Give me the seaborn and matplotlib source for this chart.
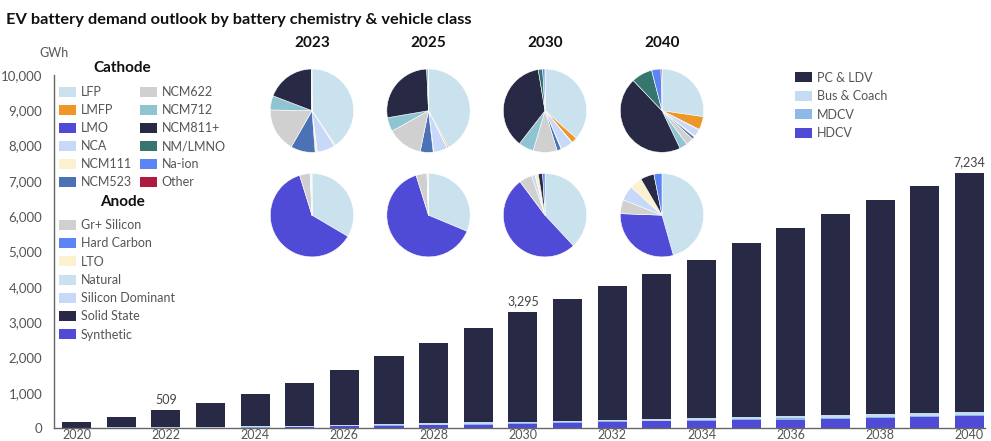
import matplotlib
matplotlib.use("Agg")
import matplotlib.pyplot as plt
import seaborn as sns
import numpy as np
import pandas as pd
from matplotlib.patches import Patch

# ---------------- data ----------------
years = list(range(2020, 2041))
pc_ldv = [149, 286, 486, 669, 919, 1199, 1541, 1916, 2259, 2669, 3112,
          3441, 3781, 4093, 4464, 4925, 5337, 5700, 6071, 6438, 6785]
bus_coach = [10, 14, 18, 22, 28, 32, 36, 40, 44, 47, 50,
             52, 54, 56, 58, 60, 62, 64, 66, 68, 70]
mdcv = [1, 2, 3, 4, 6, 10, 12, 15, 17, 19, 20,
        22, 24, 26, 28, 30, 33, 36, 40, 44, 48]
hdcv = [0, 1, 2, 5, 10, 25, 45, 60, 80, 95, 113,
        135, 161, 185, 210, 225, 238, 260, 283, 310, 331]
labelled_years = [2022, 2030, 2040]
tick_years = [2020, 2022, 2024, 2026, 2028, 2030, 2032, 2034, 2036, 2038, 2040]
y_ticks = [0, 1000, 2000, 3000, 4000, 5000, 6000, 7000, 8000, 9000, 10000]

vehicle_names = ["PC & LDV", "Bus & Coach", "MDCV", "HDCV"]
vehicle_colors = ["#282a45", "#c5dcf0", "#8db8e8", "#504bd6"]

pie_years = ["2023", "2025", "2030", "2040"]

cathode_names = ["LFP", "LMFP", "LMO", "NCA", "NCM111", "NCM523",
                 "NCM622", "NCM712", "NCM811+", "NM/LMNO", "Na-ion", "Other"]
cathode_colors = ["#c9e2ee", "#ee9628", "#504bd6", "#c8d8f8", "#fbf1cf", "#4a72b5",
                  "#d0d0d0", "#8ec5d1", "#282a45", "#37766e", "#5b85f6", "#af1b3f"]
cathode_2023 = [40.5, 0.3, 0.2, 7.0, 0.8, 9.5, 17.0, 5.5, 19.0, 0.0, 0.1, 0.1]
cathode_2025 = [42.0, 0.5, 0.2, 5.3, 0.2, 5.0, 13.7, 5.4, 27.0, 0.5, 0.2, 0.0]
cathode_2030 = [36.5, 2.2, 0.2, 4.6, 0.2, 1.6, 9.3, 5.9, 36.9, 1.7, 0.9, 0.0]
cathode_2040 = [27.3, 5.1, 0.3, 2.8, 0.4, 1.0, 3.0, 3.0, 45.0, 8.1, 3.6, 0.4]

anode_legend_names = ["Gr+ Silicon", "Hard Carbon", "LTO", "Natural",
                      "Silicon Dominant", "Solid State", "Synthetic"]
anode_pie_order = ["Natural", "Synthetic", "Gr+ Silicon", "Silicon Dominant",
                   "LTO", "Solid State", "Hard Carbon"]
anode_colors = {"Gr+ Silicon": "#d0d0d0", "Hard Carbon": "#5b85f6", "LTO": "#fbf1cf",
                "Natural": "#c9e2ee", "Silicon Dominant": "#c8d8f8",
                "Solid State": "#282a45", "Synthetic": "#504bd6"}
anode_2023 = [33.5, 61.7, 4.1, 0.2, 0.3, 0.1, 0.1]
anode_2025 = [31.3, 63.9, 4.2, 0.1, 0.2, 0.1, 0.2]
anode_2030 = [38.1, 51.7, 5.0, 1.3, 1.3, 1.7, 0.9]
anode_2040 = [45.6, 30.0, 5.4, 5.8, 4.8, 5.3, 3.1]

title = "EV battery demand outlook by battery chemistry & vehicle class"

# ---------------- style ----------------
sns.set_theme(style="white")
plt.rcParams["font.family"] = ["Lato", "DejaVu Sans"]
TXT = "#555555"

W, H = 991, 441
fig = plt.figure(figsize=(W / 100, H / 100), dpi=100)
fig.patch.set_facecolor("white")


def rect(x0, y0, x1, y1):
    """pixel box (top-left origin) -> figure fraction rect"""
    return [x0 / W, 1 - y1 / H, (x1 - x0) / W, (y1 - y0) / H]


ax = fig.add_axes(rect(54, 75, 985, 428))

df = pd.DataFrame({"year": [str(y) for y in years],
                   "PC & LDV": pc_ldv, "Bus & Coach": bus_coach,
                   "MDCV": mdcv, "HDCV": hdcv})
stack_order = ["HDCV", "MDCV", "Bus & Coach", "PC & LDV"]
cum = df[stack_order].cumsum(axis=1)
order = [str(y) for y in years]
# draw from the top of the stack down so lower layers overlay
for name in reversed(stack_order):
    col = vehicle_colors[vehicle_names.index(name)]
    sns.barplot(x=df["year"], y=cum[name], order=order, color=col,
                saturation=1, width=0.65, errorbar=None, ax=ax,
                linewidth=0)

totals = cum["PC & LDV"].tolist()
for yr in labelled_years:
    i = years.index(yr)
    ax.annotate(f"{totals[i]:,.0f}", (i, totals[i]), xytext=(0, 3),
                textcoords="offset points", ha="center", va="bottom",
                fontsize=9, color="#444444")

ax.set_xlim(-0.504, 20.35)
ax.set_ylim(0, 10000)
ax.set_yticks(y_ticks)
ax.set_yticklabels([f"{v:,}" for v in y_ticks])
ax.set_xticks([years.index(y) for y in tick_years])
ax.set_xticklabels([str(y) for y in tick_years])
ax.set_xlabel("")
ax.set_ylabel("")
for s in ["top", "right"]:
    ax.spines[s].set_visible(False)
for s in ["left", "bottom"]:
    ax.spines[s].set_color("#666666")
    ax.spines[s].set_linewidth(1.0)
ax.tick_params(axis="y", direction="out", length=3.5, width=1, color="#666666",
               labelsize=9.5, labelcolor=TXT, pad=5)
ax.tick_params(axis="x", length=0, labelsize=9, labelcolor=TXT, pad=0.8)
ax.patch.set_alpha(0)

fig.text(54 / W, 1 - 53 / H, "GWh", ha="center", va="center", fontsize=9, color=TXT)
fig.text(6 / W, 1 - 20 / H, title, ha="left", va="center", fontsize=11.8,
         fontweight="bold", color="#111111")

# ---------------- pies ----------------
pie_x = [312, 428.5, 545, 662]
cath_y, anode_y = 110.7, 215.2
r = 41.7
side = 2.5 * r
cathode_sets = [cathode_2023, cathode_2025, cathode_2030, cathode_2040]
anode_sets = [anode_2023, anode_2025, anode_2030, anode_2040]
for k, yr in enumerate(pie_years):
    cx = pie_x[k]
    fig.text(cx / W, 1 - 43 / H, yr, ha="center", va="center",
             fontsize=11, fontweight="bold", color="#111111")
    pa = fig.add_axes(rect(cx - side / 2, cath_y - side / 2, cx + side / 2, cath_y + side / 2))
    pa.pie(cathode_sets[k], colors=cathode_colors, startangle=90, counterclock=False,
           wedgeprops=dict(linewidth=0.4, edgecolor="white"))
    pb = fig.add_axes(rect(cx - side / 2, anode_y - side / 2, cx + side / 2, anode_y + side / 2))
    pb.pie(anode_sets[k], colors=[anode_colors[n] for n in anode_pie_order],
           startangle=90, counterclock=False,
           wedgeprops=dict(linewidth=0.4, edgecolor="white"))

# ---------------- legends ----------------
leg_kw = dict(frameon=False, fontsize=9, handlelength=1.33, handleheight=0.85,
              handletextpad=0.4, borderpad=0, borderaxespad=0,
              labelcolor=TXT, loc="upper left")

fig.text(122 / W, 1 - 68.3 / H, "Cathode", ha="center", va="center",
         fontsize=11, fontweight="bold", color="#111111")
cat_handles = [Patch(facecolor=c, edgecolor="none", label=n)
               for n, c in zip(cathode_names, cathode_colors)]
fig.legend(handles=cat_handles, ncol=2, columnspacing=0.65, labelspacing=0.48,
           bbox_to_anchor=(59 / W, 1 - 86.5 / H), **leg_kw)

fig.text(122 / W, 1 - 201.7 / H, "Anode", ha="center", va="center",
         fontsize=11, fontweight="bold", color="#111111")
an_handles = [Patch(facecolor=anode_colors[n], edgecolor="none", label=n)
              for n in anode_legend_names]
fig.legend(handles=an_handles, labelspacing=0.5,
           bbox_to_anchor=(59 / W, 1 - 219.2 / H), **leg_kw)

veh_handles = [Patch(facecolor=c, edgecolor="none", label=n)
               for n, c in zip(vehicle_names, vehicle_colors)]
fig.legend(handles=veh_handles, labelspacing=0.53,
           bbox_to_anchor=(795 / W, 1 - 71.5 / H), **leg_kw)

fig.savefig("out.png", dpi=100, facecolor="white")
